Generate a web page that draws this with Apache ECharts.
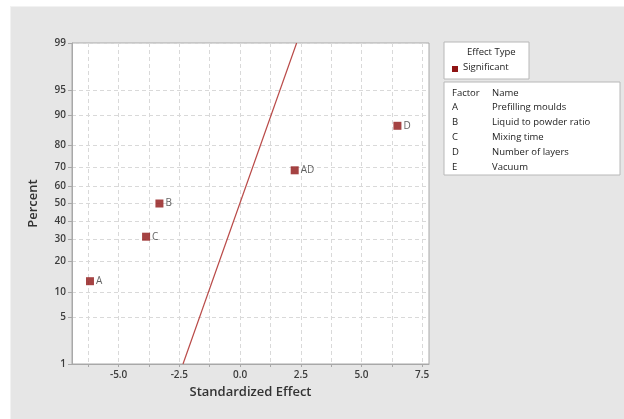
<!DOCTYPE html>
<html style="height: 100%">
<head>
    <meta charset="UTF-8">
    <title>Normal Plot of the Standardized Effects</title>
    <script type="text/javascript" src="https://cdn.jsdelivr.net/npm/echarts/dist/echarts.min.js"></script>
</head>
<body style="height: 100%; margin: 0; background: #fff">
    <div id="bg" style="position: absolute; left: 10px; top: 6px; right: 0; bottom: 0; background: #e6e6e6; border-left: 1px solid #f2f2f2; border-top: 1px solid #f2f2f2"></div>
    <div id="container" style="position: absolute; left: 0; top: 0; width: 624px; height: 419px"></div>
<script>
    // effects (significant only)
    var factors = ['A', 'C', 'B', 'AD', 'D'];
    var effects = [-6.18, -3.87, -3.32, 2.25, 6.48];
    var percents = [13, 31.5, 50, 68.5, 87];

    // reference line, read at the 1% and 99% edges
    var lineEffects = [-2.35, 2.33];
    var linePercents = [1, 99];

    var xLabels = [-5.0, -2.5, 0.0, 2.5, 5.0, 7.5];
    var xGrid = [-6.25, -5, -3.75, -2.5, -1.25, 0, 1.25, 2.5, 3.75, 5, 6.25, 7.5];
    var yTicks = [1, 5, 10, 20, 30, 40, 50, 60, 70, 80, 90, 95, 99];

    var legendFactors = ['A', 'B', 'C', 'D', 'E'];
    var legendNames = ['Prefilling moulds', 'Liquid to powder ratio', 'Mixing time', 'Number of layers', 'Vacuum'];

    // normal probability scale
    function probit(p){
        if (p == 0.5) return 0;
        var q = p < 0.5 ? p : 1 - p;
        var t = Math.sqrt(-2 * Math.log(q));
        var z = t - (2.515517 + 0.802853 * t + 0.010328 * t * t) /
            (1 + 1.432788 * t + 0.189269 * t * t + 0.001308 * t * t * t);
        return p < 0.5 ? -z : z;
    }
    var yZ = yTicks.map(function (p) { return probit(p / 100); });

    function pctLabel(v){
        var best = 0;
        for (var i = 0; i < yZ.length; i++) {
            if (Math.abs(yZ[i] - v) < Math.abs(yZ[best] - v)) best = i;
        }
        return String(yTicks[best]);
    }

    var points = effects.map(function (e, i) {
        return {value: [e, probit(percents[i] / 100)], name: factors[i]};
    });
    var linePts = lineEffects.map(function (e, i) {
        return [e, probit(linePercents[i] / 100)];
    });

    var font = '"Open Sans", "Noto Sans", sans-serif';
    var gridLine = {show: true, lineStyle: {color: '#d9d9d9', type: [4, 3], width: 1}};

    var legendText = [];
    legendText.push({type: 'text', left: 452, top: 88,
        style: {text: 'Factor', font: '9.5px ' + font, fill: '#222'}});
    legendText.push({type: 'text', left: 492, top: 88,
        style: {text: 'Name', font: '9.5px ' + font, fill: '#222'}});
    for (var i = 0; i < legendFactors.length; i++) {
        legendText.push({type: 'text', left: 452, top: 102 + i * 15,
            style: {text: legendFactors[i], font: '9.5px ' + font, fill: '#222'}});
        legendText.push({type: 'text', left: 492, top: 102 + i * 15,
            style: {text: legendNames[i], font: '9.5px ' + font, fill: '#222'}});
    }

    var myChart = echarts.init(document.getElementById('container'));
    var option = {
        animation: false,
        backgroundColor: 'transparent',
        textStyle: {fontFamily: font},
        grid: {
            left: 72, right: 195, top: 43, bottom: 55,
            show: true, backgroundColor: '#fff', borderColor: '#a8a8a8', borderWidth: 1
        },
        xAxis: {
            type: 'value',
            min: -6.92,
            max: 7.78,
            name: 'Standardized Effect',
            nameLocation: 'middle',
            nameGap: 22,
            nameTextStyle: {fontSize: 13, fontWeight: 600, color: '#333'},
            axisLine: {show: true, onZero: false, lineStyle: {color: '#a8a8a8'}},
            axisTick: {show: true, length: 3, customValues: xGrid, lineStyle: {color: '#a8a8a8'}},
            axisLabel: {
                customValues: xLabels, fontSize: 10, fontWeight: 600, color: '#3c3c3c', margin: 6,
                formatter: function (v) { return v.toFixed(1); }
            },
            splitLine: gridLine
        },
        yAxis: {
            type: 'value',
            min: probit(0.01),
            max: probit(0.99),
            name: 'Percent',
            nameLocation: 'middle',
            nameGap: 32,
            nameTextStyle: {fontSize: 13, fontWeight: 600, color: '#333'},
            axisLine: {show: true, onZero: false, lineStyle: {color: '#a8a8a8'}},
            axisTick: {show: true, length: 4, customValues: yZ, lineStyle: {color: '#a8a8a8'}},
            axisLabel: {
                customValues: yZ, fontSize: 10, fontWeight: 600, color: '#3c3c3c', margin: 6,
                formatter: pctLabel
            },
            splitLine: gridLine
        },
        series: [{
            type: 'line',
            data: linePts,
            symbol: 'none',
            lineStyle: {color: '#b94a48', width: 1.2},
            z: 2
        }, {
            type: 'scatter',
            data: points,
            symbol: 'rect',
            symbolSize: 8,
            itemStyle: {color: '#8f1414'},
            label: {
                show: true, position: 'right', distance: 2,
                formatter: '{b}', fontSize: 10, color: '#3a3a3a'
            },
            z: 3
        }],
        graphic: [
            {type: 'rect', shape: {x: 444, y: 42, width: 85, height: 37},
                style: {fill: '#fff', stroke: '#b8b8b8', lineWidth: 1}},
            {type: 'text', left: 467, top: 47,
                style: {text: 'Effect Type', font: '9.5px ' + font, fill: '#222'}},
            {type: 'rect', shape: {x: 452, y: 66, width: 6, height: 6},
                style: {fill: '#8f1414'}},
            {type: 'text', left: 463, top: 62,
                style: {text: 'Significant', font: '9.5px ' + font, fill: '#222'}},
            {type: 'rect', shape: {x: 444, y: 82, width: 176, height: 93},
                style: {fill: '#fff', stroke: '#b8b8b8', lineWidth: 1}}
        ].concat(legendText)
    };
    myChart.setOption(option);
</script>
</body>
</html>
